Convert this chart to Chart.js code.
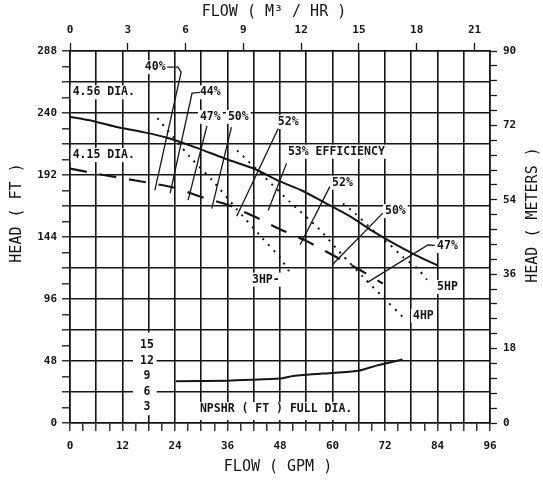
<!DOCTYPE html>
<html>
<head>
<meta charset="utf-8">
<title>Pump curve</title>
<script src="https://cdn.jsdelivr.net/npm/chart.js@4.4.1/dist/chart.umd.min.js"></script>
<style>
  body { margin: 0; background: #fff; }
</style>
</head>
<body>
<canvas id="pumpChart" width="543" height="480"></canvas>
<script>
// axis labels
var flowTicksGpm = [0, 12, 24, 36, 48, 60, 72, 84, 96];
var flowTicksM3 = [0, 3, 6, 9, 12, 15, 18, 21];
var headTicksFt = [0, 48, 96, 144, 192, 240, 288];
var headTicksM = [0, 18, 36, 54, 72, 90];
var npshTicks = [15, 12, 9, 6, 3];

// head curves (flow GPM, head ft)
var dia456Flow = [0, 5, 11, 17, 22, 29, 36, 42, 48, 53, 58, 64, 69, 74, 79, 84];
var dia456Head = [237, 234, 229, 225, 221, 213, 204, 197, 187, 180, 171, 160, 149, 139, 130, 122];
var dia415Flow = [0, 6, 12, 18, 24, 30, 36, 42, 48, 54, 60, 66, 71.5];
var dia415Head = [197, 193, 189.5, 186, 182, 175, 169, 160, 150, 141, 130, 119, 108];

// horsepower lines
var hp3Flow = [20, 27.4, 32.5, 38, 44, 48, 50.7];
var hp3Head = [236, 206, 188, 166, 143, 128, 114];
var hp4Flow = [38.2, 44.6, 50.3, 56.7, 62, 67, 71.5, 76.1];
var hp4Head = [211, 190, 171, 151, 131, 113, 97.5, 82];
var hp5Flow = [62.4, 65.1, 70.4, 73.1, 76.1, 79.3, 81.6];
var hp5Head = [170, 162.5, 145.5, 138, 128.5, 120, 111];

// efficiency lines
var eff40Flow = [22.2, 24.7, 25.4, 19.4];
var eff40Head = [275.5, 275.5, 271.7, 180.3];
var eff44Flow = [29.7, 27.9, 22.9];
var eff44Head = [256, 255.4, 178];
var eff47Flow = [31.3, 27];
var eff47Head = [230, 172.6];
var eff50Flow = [36.9, 32.4];
var eff50Head = [229, 166];
var eff52Flow = [47.6, 38.1];
var eff52Head = [228, 160];
var eff53Flow = [49.5, 45.3];
var eff53Head = [201, 164.5];
var eff52bFlow = [59.4, 52.6];
var eff52bHead = [183, 138];
var eff50bFlow = [71.5, 59.9];
var eff50bHead = [162.5, 122.3];
var eff47bFlow = [83.4, 81.8, 68.1];
var eff47bHead = [137.5, 137.8, 109.1];

// NPSHR full dia (flow GPM, NPSH ft)
var npshFlow = [24.2, 36, 48, 51, 60, 66, 70, 76];
var npshReq = [8.1, 8.2, 8.6, 9.1, 9.7, 10.1, 11.1, 12.3];

var ink = '#151515';
var mono = 'DejaVu Sans Mono';
var GPM_PER_M3H = 4.4029;

// text on the plot: text, flow, head
var notes = [
  ['40%', 17.1, 275.5],
  ['44%', 29.7, 256],
  ['47%', 29.7, 237],
  ['50%', 36.1, 237],
  ['52%', 47.5, 233],
  ['53% EFFICIENCY', 49.8, 210],
  ['52%', 59.9, 186],
  ['50%', 72, 164],
  ['47%', 83.9, 137],
  ['3HP-', 41.6, 111],
  ['4HP', 78.4, 83],
  ['5HP', 83.9, 105.3],
  ['4.56 DIA.', 0.6, 256],
  ['4.15 DIA.', 0.6, 207.4],
  ['NPSHR ( FT ) FULL DIA.', 29.7, 10.8]
];

function curve(flow, head, opts) {
  var pts = flow.map(function (f, i) { return { x: f, y: head[i] }; });
  return Object.assign({
    data: pts,
    showLine: true,
    pointRadius: 0,
    borderColor: ink,
    borderWidth: 1.3,
    fill: false,
    tension: 0,
    xAxisID: 'x',
    yAxisID: 'y'
  }, opts || {});
}

var labelFont = 'bold 11.5px "' + mono + '"';

var pumpLabels = {
  id: 'pumpLabels',
  beforeDatasetsDraw: function (chart) {
    var c = chart.ctx, sx = chart.scales.x, sy = chart.scales.y, sn = chart.scales.yN;
    c.save();
    c.font = labelFont;
    c.fillStyle = '#fff';
    notes.forEach(function (n) {
      var px = sx.getPixelForValue(n[1]), py = sy.getPixelForValue(n[2]);
      var w = c.measureText(n[0]).width;
      var h = n[0].indexOf('NPSHR') === 0 ? 18 : 14;
      c.fillRect(px - 2, py - 7, w + 4, h);
    });
    // gap in the grid for the NPSH scale
    var x0 = sx.getPixelForValue(14.4), x1 = sx.getPixelForValue(19.8);
    var y0 = sn.getPixelForValue(17.5), y1 = sn.getPixelForValue(1.5);
    c.fillRect(x0, y0, x1 - x0, y1 - y0);
    c.restore();
  },
  afterDatasetsDraw: function (chart) {
    var c = chart.ctx, sx = chart.scales.x, sy = chart.scales.y, sn = chart.scales.yN;
    c.save();
    c.font = labelFont;
    c.fillStyle = ink;
    c.textBaseline = 'middle';
    notes.forEach(function (n) {
      c.fillText(n[0], sx.getPixelForValue(n[1]), sy.getPixelForValue(n[2]));
    });
    c.textAlign = 'center';
    npshTicks.forEach(function (v) {
      c.fillText(String(v), sx.getPixelForValue(17.6), sn.getPixelForValue(v));
    });
    c.restore();
  },
  afterDraw: function (chart) {
    var c = chart.ctx;
    c.save();
    c.font = '15px "' + mono + '"';
    c.fillStyle = ink;
    c.textAlign = 'center';
    c.textBaseline = 'middle';
    c.fillText('FLOW ( M\u00B3 / HR )', 274, 12);
    c.fillText('FLOW ( GPM )', 278, 467);
    c.translate(17, 213);
    c.rotate(-Math.PI / 2);
    c.fillText('HEAD ( FT )', 0, 0);
    c.restore();
    c.save();
    c.font = '15px "' + mono + '"';
    c.fillStyle = ink;
    c.textAlign = 'center';
    c.textBaseline = 'middle';
    c.translate(533, 215);
    c.rotate(-Math.PI / 2);
    c.fillText('HEAD ( METERS )', 0, 0);
    c.restore();
  }
};

var tickFont = { family: mono, size: 11, weight: 'bold' };

function isIn(list, v) {
  return list.some(function (t) { return Math.abs(t - v) < 1e-6; });
}

var ctx = document.getElementById('pumpChart');
var pumpChart = new Chart(ctx, {
  type: 'scatter',
  data: {
    datasets: [
      curve(dia456Flow, dia456Head, { borderWidth: 2, tension: 0.2 }),
      curve(dia415Flow, dia415Head, { borderWidth: 2.2, borderDash: [17, 13], tension: 0.2 }),
      curve(hp3Flow, hp3Head, { borderWidth: 2, borderDash: [2, 6], tension: 0.2 }),
      curve(hp4Flow, hp4Head, { borderWidth: 2, borderDash: [2, 6], tension: 0.2 }),
      curve(hp5Flow, hp5Head, { borderWidth: 2, borderDash: [2, 6], tension: 0.2 }),
      curve(eff40Flow, eff40Head),
      curve(eff44Flow, eff44Head),
      curve(eff47Flow, eff47Head),
      curve(eff50Flow, eff50Head),
      curve(eff52Flow, eff52Head),
      curve(eff53Flow, eff53Head),
      curve(eff52bFlow, eff52bHead),
      curve(eff50bFlow, eff50bHead),
      curve(eff47bFlow, eff47bHead),
      curve(npshFlow, npshReq, { borderWidth: 2, tension: 0.2, yAxisID: 'yN' })
    ]
  },
  options: {
    responsive: false,
    animation: false,
    layout: { padding: 0 },
    plugins: {
      legend: { display: false },
      tooltip: { enabled: false }
    },
    scales: {
      x: {
        type: 'linear',
        position: 'bottom',
        min: 0,
        max: 96,
        afterFit: function (s) { s.height = 57; },
        ticks: {
          stepSize: 3,
          includeBounds: false,
          autoSkip: false,
          maxRotation: 0,
          padding: 9,
          color: ink,
          font: tickFont,
          callback: function (v) { return isIn(flowTicksGpm, v) ? String(v) : ''; }
        },
        grid: {
          color: function (c) { return c.tick && c.tick.value % 6 === 0 ? ink : 'rgba(0,0,0,0)'; },
          lineWidth: 1.6,
          tickColor: ink,
          tickLength: 8,
          tickWidth: 1.3
        },
        border: { display: true, color: ink, width: 1.6 }
      },
      x2: {
        type: 'linear',
        position: 'top',
        min: 0,
        max: 96 / GPM_PER_M3H,
        afterFit: function (s) { s.height = 51; },
        afterBuildTicks: function (s) {
          s.ticks = flowTicksM3.map(function (v) { return { value: v }; });
        },
        ticks: {
          autoSkip: false,
          maxRotation: 0,
          padding: 6,
          color: ink,
          font: tickFont,
          callback: function (v) { return String(v); }
        },
        grid: { drawOnChartArea: false, tickColor: ink, tickLength: 8, tickWidth: 1.3 },
        border: { display: true, color: ink, width: 1.6 }
      },
      y: {
        type: 'linear',
        position: 'left',
        min: 0,
        max: 288,
        afterFit: function (s) { s.width = 70; },
        ticks: {
          stepSize: 12,
          includeBounds: false,
          autoSkip: false,
          padding: 5,
          color: ink,
          font: tickFont,
          callback: function (v) { return isIn(headTicksFt, v) ? String(v) : ''; }
        },
        grid: {
          color: function (c) { return c.tick && c.tick.value % 24 === 0 ? ink : 'rgba(0,0,0,0)'; },
          lineWidth: 1.6,
          tickColor: ink,
          tickLength: 8,
          tickWidth: 1.3
        },
        border: { display: true, color: ink, width: 1.6 }
      },
      y2: {
        type: 'linear',
        position: 'right',
        min: 0,
        max: 90,
        afterFit: function (s) { s.width = 53; },
        ticks: {
          stepSize: 3.6,
          includeBounds: false,
          autoSkip: false,
          padding: 6,
          color: ink,
          font: tickFont,
          callback: function (v) { return isIn(headTicksM, v) ? String(v) : ''; }
        },
        grid: { drawOnChartArea: false, tickColor: ink, tickLength: 7, tickWidth: 1.3 },
        border: { display: true, color: ink, width: 1.6 }
      },
      yN: {
        type: 'linear',
        display: false,
        min: 0,
        max: 72
      }
    }
  },
  plugins: [pumpLabels]
});
</script>
</body>
</html>
